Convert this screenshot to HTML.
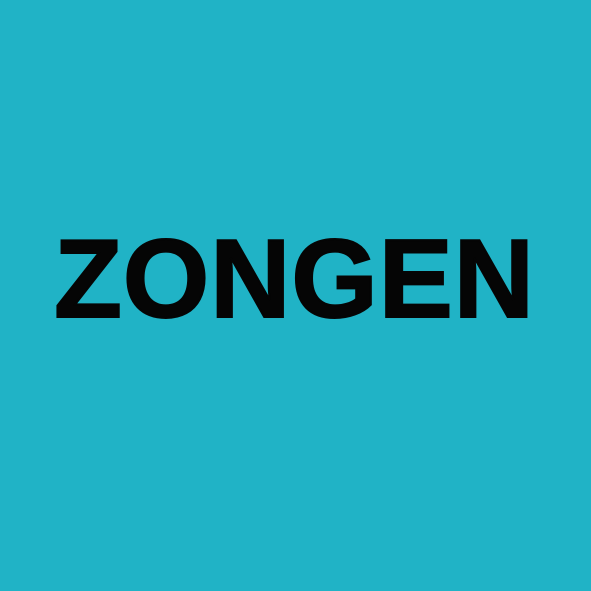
<!DOCTYPE html>
<html>
<head>
<meta charset="utf-8">
<style>
  html, body { margin:0; padding:0; }
  body { width:591px; height:591px; background:#20b3c6; position:relative; overflow:hidden; }
  .logo {
    position:absolute; left:-1px; width:591px; top:224px;
    text-align:center; font-family:"Liberation Sans", sans-serif;
    font-weight:bold; font-size:111px; line-height:111px; color:#050505;
    letter-spacing:1px; -webkit-text-stroke:2px #050505;
  }
</style>
</head>
<body>
  <div class="logo">ZONGEN</div>
</body>
</html>
